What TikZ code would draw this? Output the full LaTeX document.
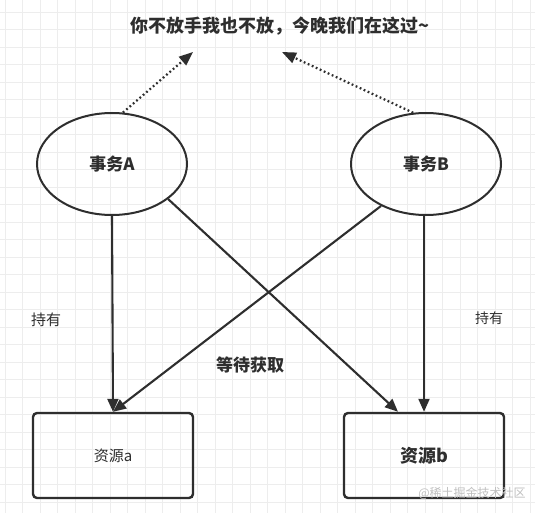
\documentclass[tikz,border=0pt]{standalone}
\usepackage{fontspec}
\newfontfamily\cjk{Noto Sans CJK SC}
\usetikzlibrary{arrows.meta,shapes.geometric}
\definecolor{ink}{HTML}{2E2E2E}
\begin{document}
\begin{tikzpicture}[x=1pt,y=-1pt,
  line width=2.1pt,
  every node/.style={font=\cjk, text=ink},
  ell/.style={ellipse, draw=ink, line width=2pt, minimum width=150pt, minimum height=102pt, inner sep=0pt},
  resbox/.style={rectangle, rounded corners=4pt, draw=ink, line width=2.4pt, minimum width=160pt, minimum height=85pt, inner sep=0pt},
  arr/.style={draw=ink, line width=2.1pt, -{Triangle[length=13pt,width=11pt]}},
  dotarr/.style={draw=ink, line width=2.2pt, dash pattern=on 1.8pt off 2.6pt, -{Triangle[length=14pt,width=11pt]}},
  lbl/.style={inner sep=0pt}
]
\useasboundingbox (0,0) rectangle (535,513);
\fill[white] (0,0) rectangle (535,513);
\begin{scope}
\clip (0,0) rectangle (535,513);
\foreach \k in {0,...,30} {
  \draw[line width=0.6pt, black!7] (5+17.5*\k,0) -- (5+17.5*\k,513);
  \draw[line width=0.6pt, black!7] (0,12+17.5*\k) -- (535,12+17.5*\k);
}
\end{scope}

\node[lbl, font=\cjk\bfseries\fontsize{18}{20}\selectfont] (title) at (280,26) {你不放手我也不放，今晚我们在这过\textasciitilde};

\node[ell, font=\cjk\bfseries\fontsize{17}{20}\selectfont] (A) at (112,164) {事务A};
\node[ell, font=\cjk\bfseries\fontsize{17}{20}\selectfont] (B) at (426,164) {事务B};

\node[resbox, font=\cjk\fontsize{15}{18}\selectfont] (a) at (113,455.5) {资源a};
\node[resbox, font=\cjk\bfseries\fontsize{18}{20}\selectfont] (b) at (424,455.5) {资源b};

\node[lbl, font=\cjk\fontsize{15}{18}\selectfont] (holdL) at (46,320) {持有};
\node[lbl, font=\cjk\fontsize{14}{18}\selectfont] (holdR) at (489,318) {持有};
\node[lbl, font=\cjk\bfseries\fontsize{17}{20}\selectfont] (wait) at (250,365) {等待获取};

\node[lbl, font=\cjk\fontsize{12}{14}\selectfont, text=black!25] (wm) at (472,493) {@稀土掘金技术社区};

\coordinate (tA) at (193,52);
\coordinate (tB) at (282,52);
\draw[dotarr] (A.78) -- (tA);
\draw[dotarr] (B.104) -- (tB);

\draw[arr] (A.south) -- (a.north);
\draw[arr] (b.north |- B.south) -- (b.north);
\draw[arr] (B.223) -- (a.north);
\draw[arr] (A.-32) -- ([xshift=-26pt]b.north);
\end{tikzpicture}
\end{document}
